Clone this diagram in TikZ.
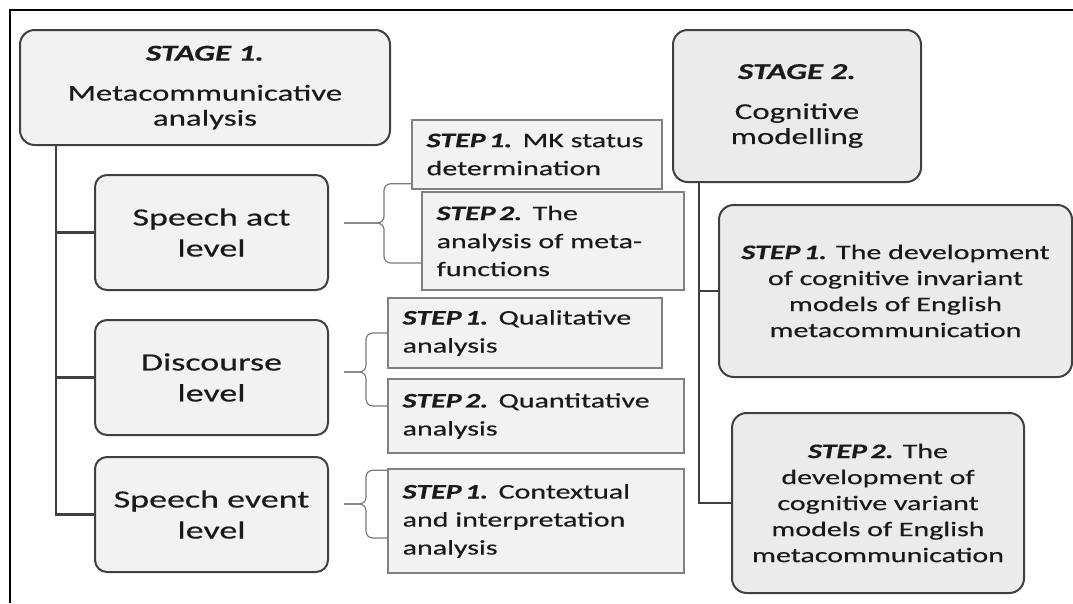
\documentclass[tikz,border=0pt]{standalone}
\usepackage{fontspec}
\setmainfont{Carlito}[FakeStretch=1.45, FakeBold=0.4]
\definecolor{boxfill}{HTML}{F2F2F2}
\definecolor{modelfill}{HTML}{EBEBEB}
\definecolor{darkline}{HTML}{404040}
\definecolor{stepline}{HTML}{808080}
\definecolor{braceline}{HTML}{7A7A7A}
\definecolor{textcol}{HTML}{1A1A1A}
\begin{document}
\begin{tikzpicture}[
  x=0.75pt, y=-0.75pt,
  stagebox/.style={rectangle, rounded corners=11pt, draw=darkline, line width=1.5pt, fill=boxfill, align=center, text=textcol, font=\fontsize{17}{18.75}\selectfont},
  levelbox/.style={rectangle, rounded corners=9pt, draw=darkline, line width=1.5pt, fill=boxfill, align=center, text=textcol, minimum width=174.75pt, minimum height=86.25pt, font=\fontsize{18.6}{23.25}\selectfont},
  stepbox/.style={rectangle, draw=stepline, line width=1.1pt, fill=boxfill, align=left, inner xsep=11pt, text=textcol, font=\fontsize{15.5}{21}\selectfont},
  modelbox/.style={rectangle, rounded corners=11pt, draw=darkline, line width=1.5pt, fill=modelfill, align=center, text=textcol, font=\fontsize{15.5}{19.5}\selectfont},
  trunk/.style={draw=darkline, line width=2pt},
  brace/.style={draw=braceline, line width=0.9pt, rounded corners=5pt}
]
\useasboundingbox (0,0) rectangle (1073,603);

% Frame
\draw[line width=1.5pt] (1073,10) -- (10,10) -- (10,603);

% Stage 1 and its levels
\node[stagebox, minimum width=277.5pt, minimum height=86.25pt] (stage1) at (205,87.5)
  {\textbf{\textit{STAGE 1.}}\\[11.25pt]Metacommunicative\\analysis};
\node[levelbox] (sa) at (211.5,232.5) {Speech act\\level};
\node[levelbox] (disc) at (211.5,377.5) {Discourse\\level};
\node[levelbox] (event) at (211.5,514.5) {Speech event\\level};

% Steps of stage 1
\node[stepbox, minimum width=187.5pt, minimum height=51.75pt, text width=165.5pt] (sa1) at (537,154.5)
  {\textbf{\textit{STEP\,1.}} MK status\\determination};
\node[stepbox, minimum width=196.5pt, minimum height=73.5pt, text width=174.5pt] (sa2) at (553,241)
  {\textbf{\textit{STEP\,2.}} The\\analysis of meta-\\functions};
\node[stepbox, minimum width=205.5pt, minimum height=52.5pt, text width=183.5pt] (d1) at (525,333)
  {\textbf{\textit{STEP\,1.}} Qualitative\\analysis};
\node[stepbox, minimum width=222pt, minimum height=55.5pt, text width=200pt] (d2) at (536,416)
  {\textbf{\textit{STEP\,2.}} Quantitative\\analysis};
\node[stepbox, minimum width=222pt, minimum height=78pt, text width=200pt] (e1) at (536,521)
  {\textbf{\textit{STEP\,1.}} Contextual\\and interpretation\\analysis};

% Stage 2 and its steps
\node[modelbox, minimum width=186pt, minimum height=114pt, font=\fontsize{17}{18.75}\selectfont] (stage2) at (797,106)
  {\textbf{\textit{STAGE 2.}}\\[11.25pt]Cognitive\\modelling};
\node[modelbox, minimum width=264.75pt, minimum height=129pt] (m1) at (895.5,291)
  {\textbf{\textit{STEP\,1.}} The development\\of cognitive invariant\\models of English\\metacommunication};
\node[modelbox, minimum width=219pt, minimum height=135pt] (m2) at (878,503)
  {\textbf{\textit{STEP\,2.}} The\\development of\\cognitive variant\\models of English\\metacommunication};

% Trunks
\coordinate (t1) at ([xshift=27.75pt]stage1.south west);
\draw[trunk] (t1) |- (event.west);
\draw[trunk] (sa.west) -- (sa.west -| t1);
\draw[trunk] (disc.west) -- (disc.west -| t1);

\coordinate (t2) at ([xshift=20.25pt]stage2.south west);
\draw[trunk] (t2) |- (m2.west);
\draw[trunk] (m1.west) -- (m1.west -| t2);

% Braces
\coordinate (satip) at ([shift={(11.25pt,7.1pt)}]sa.east);
\draw[brace] (satip) -- ++(40,0) |- ([yshift=4.5pt]sa1.south west);
\draw[brace] (satip) -- ++(40,0) |- ([yshift=-16.5pt]sa2.west);

\coordinate (dtip) at ([shift={(11.25pt,4.1pt)}]disc.east);
\draw[brace] (dtip) -- ++(22,0) |- (d1.west);
\draw[brace] (dtip) -- ++(22,0) |- ([yshift=7.5pt]d2.west);

\coordinate (etip) at ([shift={(11.25pt,7.9pt)}]event.east);
\draw[brace] (etip) -- ++(22,0) |- ([yshift=-1.5pt]e1.north west);
\draw[brace] (etip) -- ++(22,0) |- ([yshift=-12.75pt]e1.west);
\end{tikzpicture}
\end{document}
